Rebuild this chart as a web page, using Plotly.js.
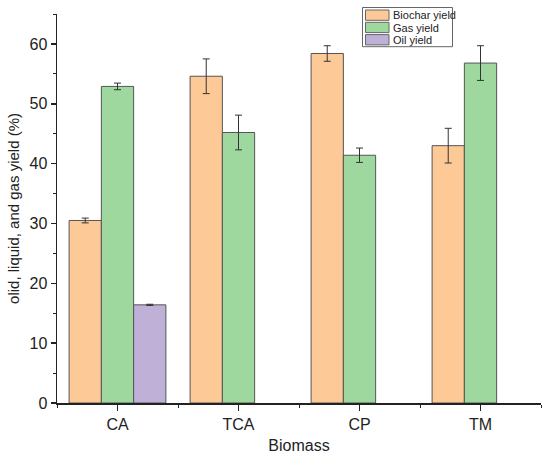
<!DOCTYPE html>
<html>
<head>
<meta charset="utf-8">
<script src="https://cdn.plot.ly/plotly-3.0.1.min.js"></script>
<style>html,body{margin:0;padding:0;background:#fff;}#chart{width:550px;height:459px;}</style>
</head>
<body>
<div id="chart"></div>
<script>
const categories = ["CA", "TCA", "CP", "TM"];
const categoryPos = [0, 1, 2, 3];
const seriesNames = ["Biochar yield", "Gas yield", "Oil yield"];
const biocharYield = [30.5, 54.6, 58.4, 43.0];
const biocharErr = [0.4, 2.9, 1.3, 2.9];
const gasYield = [52.9, 45.2, 41.4, 56.8];
const gasErr = [0.55, 2.9, 1.2, 2.9];
const oilYield = [16.4, null, null, null];
const oilErr = [0.1, null, null, null];

const colors = ["#FDC996", "#9FD89E", "#BFB0D7"];

function barTrace(name, y, err, color) {
  return {
    type: "bar", name: name, x: categoryPos, y: y,
    marker: {color: color, line: {color: "#555555", width: 1}},
    error_y: {type: "data", array: err, visible: true, color: "#333333", thickness: 1, width: 3.5}
  };
}

const data = [
  barTrace(seriesNames[0], biocharYield, biocharErr, colors[0]),
  barTrace(seriesNames[1], gasYield, gasErr, colors[1]),
  barTrace(seriesNames[2], oilYield, oilErr, colors[2])
];

// plot area in pixels
const W = 550, H = 459, mL = 57, mR = 9, mT = 14, mB = 56;
const pw = W - mL - mR, ph = H - mT - mB;
const px = v => (v - mL) / pw;
const py = v => (H - mB - v) / ph;

// custom legend (Origin style wide swatches)
const shapes = [{
  type: "rect", xref: "paper", yref: "paper",
  x0: px(362.5), x1: px(452.5), y0: py(46.7), y1: py(7.5),
  line: {color: "#666666", width: 1}, fillcolor: "rgba(0,0,0,0)"
}];
const annotations = [];
seriesNames.forEach((name, i) => {
  const top = 10 + i * 12.3;
  shapes.push({
    type: "rect", xref: "paper", yref: "paper",
    x0: px(365.5), x1: px(389), y0: py(top + 10.3), y1: py(top),
    line: {color: "#666666", width: 1}, fillcolor: colors[i]
  });
  annotations.push({
    xref: "paper", yref: "paper", x: px(391), y: py(top + 5.3),
    xanchor: "left", yanchor: "middle", showarrow: false, text: name,
    font: {size: 11, color: "#222222"}
  });
});

const layout = {
  width: W, height: H,
  margin: {l: mL, r: mR, t: mT, b: mB},
  paper_bgcolor: "#ffffff", plot_bgcolor: "#ffffff",
  font: {family: "Liberation Sans, Arial, sans-serif", color: "#222222"},
  barmode: "group", bargap: 0.2, bargroupgap: 0,
  showlegend: false,
  shapes: shapes, annotations: annotations,
  xaxis: {
    range: [-0.5, 3.5], tickmode: "array", tickvals: categoryPos, ticktext: categories,
    showline: true, linecolor: "#222222", linewidth: 1.5, showgrid: false, zeroline: false,
    ticks: "outside", ticklen: 6, tickwidth: 1.5, tickcolor: "#222222",
    tickfont: {size: 16, color: "#222222"},
    minor: {tickmode: "linear", tick0: 0.5, dtick: 1, ticks: "outside", ticklen: 3, tickwidth: 1, tickcolor: "#222222", showgrid: false},
    title: {text: "Biomass", font: {size: 16, color: "#222222"}, standoff: 8}
  },
  yaxis: {
    range: [0, 65], tickmode: "linear", tick0: 0, dtick: 10,
    showline: true, linecolor: "#222222", linewidth: 1.5, showgrid: false, zeroline: false,
    ticks: "outside", ticklen: 5, tickwidth: 1.5, tickcolor: "#222222",
    tickfont: {size: 16, color: "#222222"},
    minor: {tickmode: "linear", tick0: 5, dtick: 10, ticks: "outside", ticklen: 3, tickwidth: 1, tickcolor: "#222222", showgrid: false},
    title: {text: "olid, liquid, and gas yield (%)", font: {size: 15, color: "#222222"}, standoff: 6}
  }
};

Plotly.newPlot("chart", data, layout, {displayModeBar: false, staticPlot: true});
</script>
</body>
</html>
